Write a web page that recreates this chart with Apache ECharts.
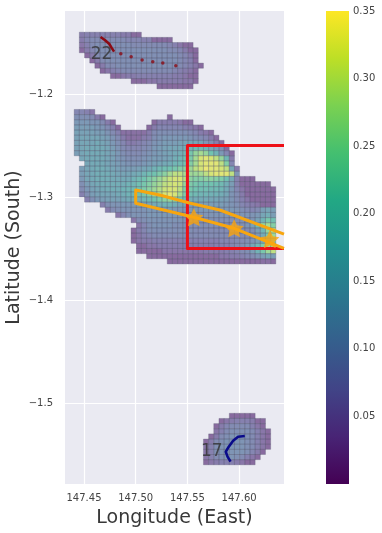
<!DOCTYPE html>
<html>
<head>
<meta charset="utf-8">
<script src="https://cdn.jsdelivr.net/npm/echarts@6/dist/echarts.min.js"></script>
<style>
html,body{margin:0;padding:0;background:#fff;}
#main{width:382px;height:533px;}
</style>
</head>
<body>
<div id="main"></div>
<script>
var lonTicks = [147.45, 147.50, 147.55, 147.60];
var latTicks = [-1.5, -1.4, -1.3, -1.2];
var colorTicks = [0.05, 0.10, 0.15, 0.20, 0.25, 0.30, 0.35];

// grid origin, cell size in degrees
var originLon = 147.4455;
var originLat = -1.14;
var cellDeg = 0.005;

// [row, first column, values in hundredths]
var northRows = [
  [0, 0, [5,6,6,6,6,6,6,6,5,5,2,2]],
  [1, 0, [5,7,8,8,8,8,8,8,8,7,7,7,6,6,2,2,2,2]],
  [2, 0, [4,6,8,9,9,9,9,9,9,9,8,8,8,8,8,8,8,7,6,4,2,2]],
  [3, 0, [2,5,7,9,9,9,9,9,9,9,9,9,9,9,9,9,9,8,8,7,5,2,2]],
  [4, 1, [2,5,8,9,9,9,9,9,9,9,9,9,9,9,9,9,9,9,8,7,5,2]],
  [5, 2, [2,5,8,9,9,9,9,9,9,9,9,9,9,9,9,9,9,8,7,6,2]],
  [6, 3, [2,5,8,8,9,9,9,9,9,9,9,9,9,9,9,9,8,7,6,4,2]],
  [7, 4, [2,4,6,7,8,8,8,8,8,8,8,8,8,8,7,6,5,4,2]],
  [8, 6, [2,2,4,5,5,6,6,6,6,6,6,6,5,5,4,2,2]],
  [9, 10, [2,2,2,4,4,5,5,5,5,5,4,4,2]],
  [10, 15, [2,2,2,2,2,2,2]]
];
var mainRows = [
  [15, -1, [7,7,6,4]],
  [16, -1, [9,9,9,8,5,2]],
  [16, 17, [2]],
  [17, -1, [11,11,11,10,10,8,5,2]],
  [17, 14, [2,5,5,5,5,4,2,2]],
  [18, -1, [12,12,12,12,11,10,8,6,2]],
  [18, 13, [2,5,7,7,7,7,7,6,5,4,2]],
  [19, -1, [13,13,13,13,12,12,10,8,6,3,3,3,3,3,5,8,9,9,9,9,9,9,8,7,5,4,2]],
  [20, -1, [13,14,14,14,14,13,12,10,8,5,3,3,3,5,6,9,10,11,11,11,11,11,10,9,8,7,5,2]],
  [21, -1, [13,14,14,14,15,14,13,11,9,7,5,5,6,7,8,10,11,12,12,12,13,14,14,14,13,10,8,5,2]],
  [22, -1, [13,14,15,15,15,15,14,12,10,8,7,7,7,8,9,11,12,13,14,14,15,16,18,19,19,17,14,11,8,2]],
  [23, -1, [12,14,15,15,15,15,14,13,11,9,8,8,8,9,10,11,12,13,14,15,16,18,22,26,28,26,21,17,11,7,2]],
  [24, 0, [14,15,15,15,15,14,13,11,10,9,9,9,10,11,12,12,13,14,16,18,20,23,28,32,33,32,30,26,18,5]],
  [25, 1, [14,15,15,15,14,13,12,11,10,10,10,11,12,13,14,15,16,18,19,21,24,28,32,33,33,33,30,24,7]],
  [26, 0, [12,14,15,16,16,15,14,13,12,12,12,13,14,15,17,19,20,21,22,24,25,27,30,32,34,33,33,32,30,14,5]],
  [27, 0, [12,14,15,16,16,16,15,14,14,14,15,16,18,20,21,23,25,28,30,30,28,27,27,28,30,32,33,33,33,30,10]],
  [28, 0, [11,14,15,16,16,16,15,15,15,15,17,19,21,23,25,27,29,31,32,32,29,25,24,24,25,25,24,23,20,14,6,2,2,2]],
  [29, 0, [9,12,14,15,16,16,16,16,16,17,18,20,22,24,26,28,30,31,32,31,26,23,22,21,21,21,20,19,16,12,6,2,2,2,2,2,2]],
  [30, 0, [8,11,13,14,15,16,16,16,17,18,19,21,23,25,27,29,31,32,32,30,24,22,21,20,20,19,19,18,15,11,7,4,2,2,2,2,2,2]],
  [31, 0, [6,9,12,13,14,14,14,15,16,17,18,20,22,24,27,30,32,33,32,28,23,20,19,18,18,17,17,16,14,10,8,5,2,2,2,2,2,2]],
  [32, 1, [6,9,11,12,13,13,13,14,15,15,16,18,19,21,23,25,26,25,22,18,16,15,15,15,14,14,13,12,10,8,6,4,2,2,2,2,2]],
  [33, 4, [6,9,10,10,11,11,11,12,13,14,15,16,17,17,16,14,13,12,12,12,12,12,12,12,11,10,9,7,6,5,4,2,2,2]],
  [34, 5, [5,8,9,10,10,10,10,10,11,11,11,12,12,11,11,11,11,11,11,11,11,11,11,11,11,10,9,8,7,8,12,14,12]],
  [35, 7, [4,7,9,10,10,10,11,11,11,11,11,11,10,10,10,10,10,10,10,10,10,10,10,10,10,10,10,11,14,16,12]],
  [36, 10, [4,8,9,10,10,10,10,10,10,10,10,9,9,9,9,9,9,9,9,9,9,9,9,10,13,17,22,20]],
  [37, 11, [4,7,9,10,10,10,10,9,9,9,9,9,9,9,9,9,9,9,9,9,9,10,13,19,26,28,24]],
  [38, 10, [2,5,7,9,9,9,9,9,9,9,9,9,8,8,8,8,8,8,8,8,8,8,8,9,12,18,26,30]],
  [39, 10, [2,4,6,7,8,8,8,8,8,8,8,8,8,8,8,8,8,8,8,8,8,8,8,9,11,15,22,27]],
  [40, 10, [2,4,5,5,6,6,6,6,6,6,6,6,6,6,6,6,6,7,7,7,8,8,9,10,12,15,19,22]],
  [41, 11, [2,2,4,4,5,5,5,5,5,5,5,5,5,5,5,6,6,6,7,8,9,11,14,18,23,27,28]],
  [42, 11, [2,2,2,2,2,4,4,4,4,4,4,4,4,5,5,5,5,6,6,7,8,9,12,17,22,27,30]],
  [43, 13, [2,2,2,2,2,2,2,2,2,2,2,2,2,2,4,4,5,5,6,7,8,10,12,14,12]],
  [44, 17, [2,2,2,2,2,2,2,2,2,2,2,2,2,2,2,2,2,2,3,3,2]]
];
var southRows = [
  [74, 29, [2,2,2,2,2]],
  [75, 27, [2,4,5,6,6,6,5,2,2]],
  [76, 26, [2,5,7,8,8,8,8,6,4,2]],
  [77, 26, [4,6,8,9,9,9,9,8,6,4,2]],
  [78, 25, [2,5,8,9,10,10,10,9,8,6,4,2]],
  [79, 24, [2,5,8,9,10,10,10,10,9,8,6,4,2]],
  [80, 24, [4,6,9,10,10,10,10,10,9,8,6,4,2]],
  [81, 24, [4,6,9,10,10,10,10,10,9,7,5,2]],
  [82, 24, [4,6,8,9,10,10,9,8,6,4,2]],
  [83, 24, [2,4,5,6,6,6,5,4,2,2]]
];

var boxPath = [[147.6434,-1.25],[147.55,-1.25],[147.55,-1.35],[147.6434,-1.35]];
var swathPath = [[147.6434,-1.3498],[147.5952,-1.3304],[147.5562,-1.3197],[147.5000,-1.3061],[147.5000,-1.2932],[147.5232,-1.2981],[147.5529,-1.3061],[147.5813,-1.3126],[147.6434,-1.3360]];
var starPoints = [[147.5562,-1.3197],[147.5952,-1.3304],[147.6297,-1.3411]];
var trackNorthLine = [[147.4660,-1.1447],[147.4701,-1.1476],[147.4743,-1.1512],[147.4766,-1.1550],[147.4791,-1.1589]];
var trackNorthDots = [[147.4856,-1.1609],[147.4956,-1.1638],[147.5062,-1.1670],[147.5165,-1.1686],[147.5262,-1.1699],[147.5388,-1.1725]];
var trackSouthLine = [[147.6055,-1.5320],[147.5990,-1.5327],[147.5942,-1.5366],[147.5900,-1.5424],[147.5871,-1.5473],[147.5888,-1.5521],[147.5917,-1.5570]];
var tagPoints = [{name:'22', value:[147.4669,-1.1615]}, {name:'17', value:[147.5736,-1.5469]}];

var viridis = ['#440154','#482475','#414487','#355f8d','#2a788e','#21908d','#22a884','#44bf70','#7ad151','#bddf26','#fde725'];
var starSymbol = 'path://M50 0L64.7 29.8L97.6 34.5L73.8 57.7L79.4 90.5L50 75L20.6 90.5L26.2 57.7L2.4 34.5L35.3 29.8Z';
var fontName = '"DejaVu Sans"';

var cells = [];
northRows.concat(mainRows, southRows).forEach(function (row) {
  row[2].forEach(function (v, i) {
    cells.push([originLon + (row[1] + i) * cellDeg, originLat - row[0] * cellDeg, v / 100]);
  });
});

function drawCell(params, api) {
  var a = api.coord([api.value(0), api.value(1)]);
  var b = api.coord([api.value(0) + cellDeg, api.value(1) - cellDeg]);
  return {
    type: 'rect',
    shape: {x: a[0], y: a[1], width: b[0] - a[0], height: b[1] - a[1]},
    style: {fill: api.visual('color'), stroke: '#5c5c72', lineWidth: 0.5, opacity: 0.6}
  };
}

// colour bar, square ended, on its own small grid
function drawBar(params, api) {
  var a = api.coord([0, 0.35]);
  var b = api.coord([1, 0]);
  var stops = viridis.map(function (c, i) {
    return {offset: i / (viridis.length - 1), color: c};
  });
  return {
    type: 'rect',
    shape: {x: a[0], y: a[1], width: b[0] - a[0], height: b[1] - a[1]},
    style: {fill: new echarts.graphic.LinearGradient(0, 1, 0, 0, stops)}
  };
}

function plainLine(data, color, width) {
  return {
    type: 'line', data: data, showSymbol: false, silent: true, z: 5,
    lineStyle: {color: color, width: width, cap: 'butt', join: 'round'}
  };
}

var option = {
  animation: false,
  backgroundColor: '#fff',
  grid: [
    {left: 65, right: 98, top: 11, bottom: 49, backgroundColor: '#eaeaf2', show: true, borderWidth: 0, outerBoundsMode: 'none', containLabel: false},
    {left: 326, width: 23, top: 11, bottom: 49, show: false, outerBoundsMode: 'none', containLabel: false}
  ],
  xAxis: [
    {
      type: 'value', gridIndex: 0, min: 147.43163, max: 147.6434,
      name: 'Longitude (East)', nameLocation: 'middle', nameGap: 25, nameMoveOverlap: false,
      nameTextStyle: {fontFamily: fontName, fontSize: 19, color: '#383838'},
      axisLine: {show: false},
      axisTick: {show: false, customValues: lonTicks},
      axisLabel: {customValues: lonTicks, margin: 9, fontFamily: fontName, fontSize: 10, color: '#444',
        formatter: function (v) { return v.toFixed(2); }},
      splitLine: {show: true, lineStyle: {color: '#fff', width: 1.2}}
    },
    {type: 'value', gridIndex: 1, min: 0, max: 1, show: false}
  ],
  yAxis: [
    {
      type: 'value', gridIndex: 0, min: -1.57864, max: -1.11942,
      name: 'Latitude (South)', nameLocation: 'middle', nameGap: 41, nameMoveOverlap: false,
      nameTextStyle: {fontFamily: fontName, fontSize: 19, color: '#383838'},
      axisLine: {show: false},
      axisTick: {show: false, customValues: latTicks},
      axisLabel: {customValues: latTicks, margin: 12, fontFamily: fontName, fontSize: 10, color: '#444',
        formatter: function (v) { return '\u2212' + Math.abs(v).toFixed(1); }},
      splitLine: {show: true, lineStyle: {color: '#fff', width: 1.2}}
    },
    {
      type: 'value', gridIndex: 1, position: 'right', min: 0, max: 0.35,
      axisLine: {show: false},
      axisTick: {show: false, customValues: colorTicks},
      axisLabel: {customValues: colorTicks, margin: 4, fontFamily: fontName, fontSize: 10, color: '#444',
        formatter: function (v) { return v.toFixed(2); }},
      splitLine: {show: false}
    }
  ],
  visualMap: {
    type: 'continuous', show: false, seriesIndex: 0, dimension: 2, min: 0, max: 0.35,
    inRange: {color: viridis}
  },
  series: [
    {type: 'custom', renderItem: drawCell, data: cells, silent: true, z: 2},
    plainLine(trackNorthLine, '#8b0a14', 2.6),
    {type: 'scatter', data: trackNorthDots, symbolSize: 3.5, silent: true, z: 5, itemStyle: {color: '#8b0a14'}},
    plainLine(trackSouthLine, '#0a0a8a', 2.6),
    plainLine(boxPath, '#ee1018', 3),
    plainLine(swathPath, '#f7a60f', 3),
    {type: 'scatter', data: starPoints, symbol: starSymbol, symbolSize: [19, 18], silent: true, z: 6, itemStyle: {color: '#fba50c'}},
    {
      type: 'scatter', data: tagPoints, symbolSize: 0, silent: true, z: 7,
      label: {show: true, position: 'inside', formatter: '{b}', fontFamily: fontName, fontSize: 17, color: '#333'}
    },
    {type: 'custom', xAxisIndex: 1, yAxisIndex: 1, renderItem: drawBar, data: [[0, 0]], silent: true, clip: false}
  ]
};

var myChart = echarts.init(document.getElementById('main'), null, {renderer: 'canvas'});
myChart.setOption(option);
</script>
</body>
</html>
